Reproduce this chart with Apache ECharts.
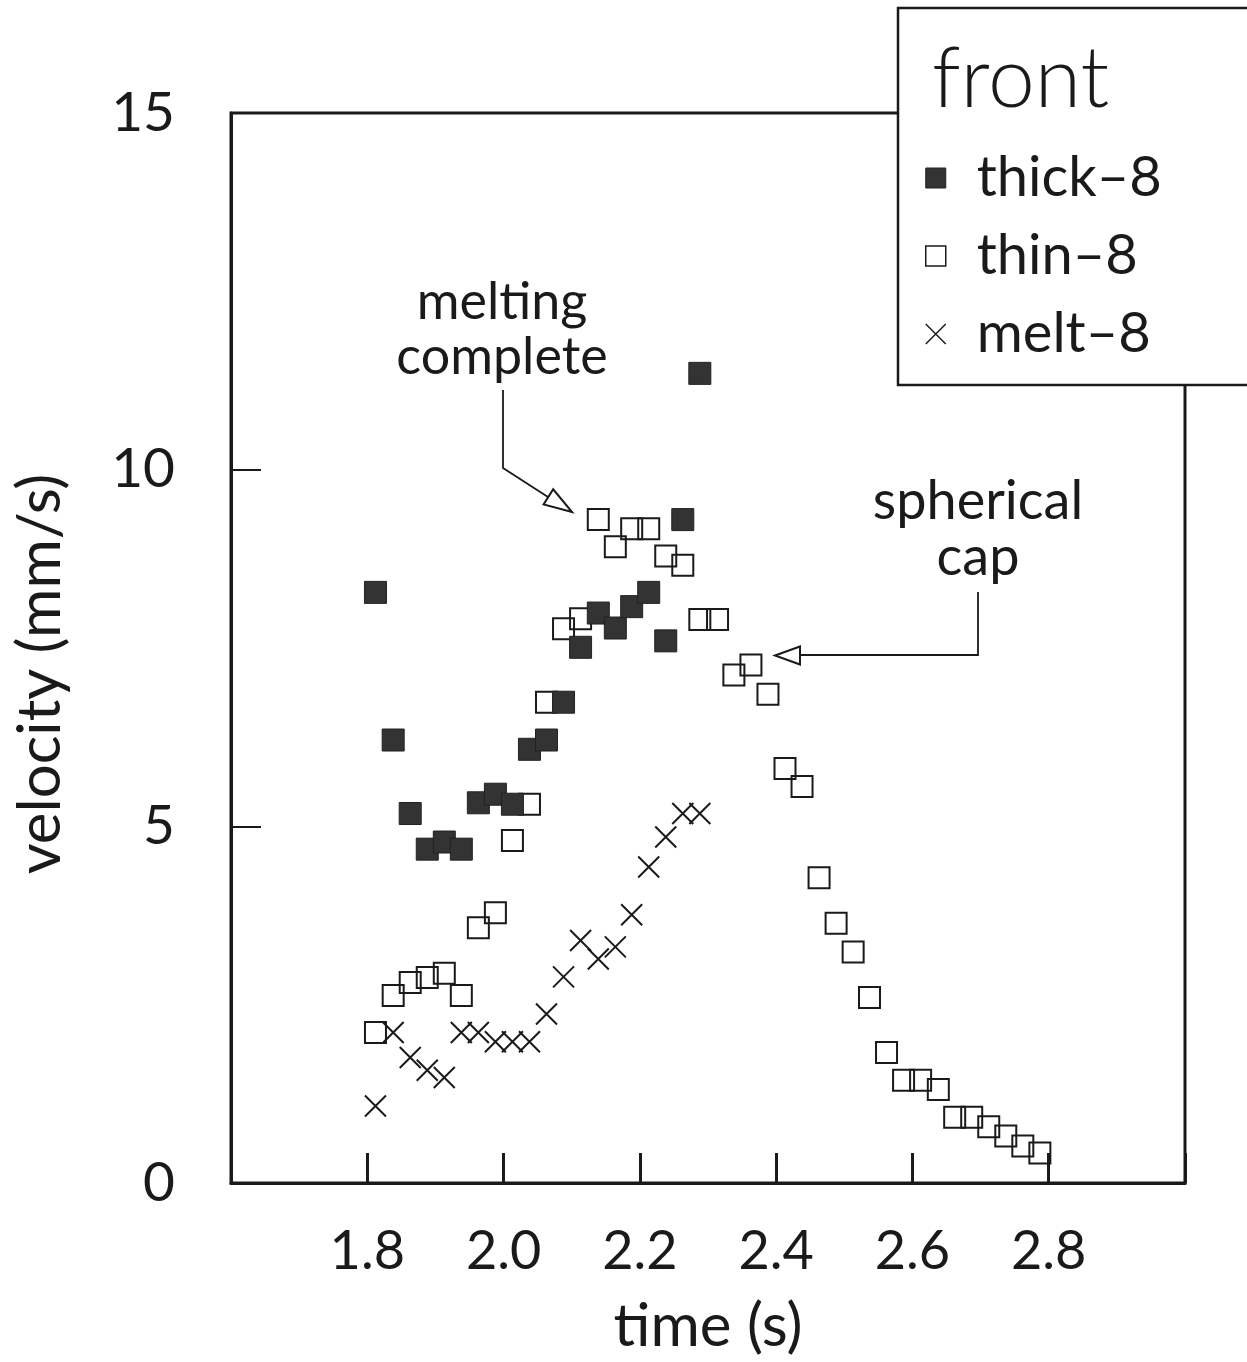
<!DOCTYPE html>
<html>
<head>
<meta charset="utf-8">
<script src="https://cdn.jsdelivr.net/npm/echarts@6/dist/echarts.min.js"></script>
<style>
html, body { margin: 0; padding: 0; background: #fff; }
#chart { width: 1247px; height: 1362px; }
</style>
</head>
<body>
<div id="chart"></div>
<script>
// frame times (s), shared by all three series
const time = [1.812, 1.838, 1.863, 1.888, 1.913, 1.938, 1.963, 1.988, 2.013, 2.038,
  2.063, 2.088, 2.113, 2.139, 2.164, 2.188, 2.213, 2.238, 2.263, 2.288,
  2.314, 2.338, 2.363, 2.388, 2.413, 2.438, 2.463, 2.488, 2.513, 2.537,
  2.562, 2.587, 2.612, 2.638, 2.662, 2.687, 2.712, 2.737, 2.762, 2.787]

// front velocity (mm/s)
const thick8 = [8.28, 6.21, 5.18, 4.68, 4.78, 4.68, 5.33, 5.45, 5.31, 6.08,
  6.21, 6.74, 7.51, 7.99, 7.78, 8.08, 8.28, 7.60, 9.30, 11.35]
const thin8 = [2.11, 2.63, 2.81, 2.88, 2.94, 2.63, 3.58, 3.79, 4.80, 5.31,
  6.74, 7.77, 7.91, 9.30, 8.92, 9.17, 9.17, 8.79, 8.66, 7.90,
  7.90, 7.12, 7.26, 6.85, 5.81, 5.56, 4.28, 3.64, 3.24, 2.60,
  1.83, 1.44, 1.44, 1.31, 0.92, 0.92, 0.79, 0.66, 0.52, 0.42]
const melt8 = [1.08, 2.11, 1.76, 1.58, 1.48, 2.11, 2.11, 1.98, 1.98, 1.98,
  2.37, 2.89, 3.40, 3.14, 3.31, 3.76, 4.43, 4.85, 5.18, 5.18]

const xTickLabels = ['1.8', '2.0', '2.2', '2.4', '2.6', '2.8']
const yTickLabels = ['0', '5', '10', '15']
const seriesNames = ['thick–8', 'thin–8', 'melt–8']

const FONT = 'Lato'
const INK = '#1a1a1a'
const CROSS = 'path://M0,0L10,10M10,0L0,10'

const pairs = (xs, ys) => ys.map((y, i) => [xs[i], y])

var dom = document.getElementById('chart')
var myChart = echarts.init(dom, null, { renderer: 'canvas' })

var txt = { fontFamily: FONT, fontWeight: 400, color: INK }

var option = {
  animation: false,
  backgroundColor: '#fff',
  grid: {
    left: 231, right: 62, top: 113, bottom: 177,
    show: true, borderColor: INK, borderWidth: 3
  },
  xAxis: {
    type: 'value', min: 1.6, max: 3.0, interval: 0.2,
    axisLine: { lineStyle: { color: INK, width: 3 } },
    axisTick: { inside: true, length: 30, lineStyle: { color: INK, width: 3 } },
    splitLine: { show: false },
    axisLabel: Object.assign({}, txt, {
      fontSize: 54, margin: 42,
      formatter: v => xTickLabels.includes(v.toFixed(1)) ? v.toFixed(1) : ''
    }),
    name: 'time (s)', nameLocation: 'middle', nameGap: 114,
    nameTextStyle: Object.assign({}, txt, { fontSize: 60 })
  },
  yAxis: {
    type: 'value', min: 0, max: 15, interval: 5,
    axisLine: { lineStyle: { color: INK, width: 3 } },
    axisTick: { inside: true, length: 30, lineStyle: { color: INK, width: 2 } },
    splitLine: { show: false },
    axisLabel: Object.assign({}, txt, {
      fontSize: 55, margin: 56,
      formatter: v => yTickLabels.includes(String(v)) ? String(v) : ''
    }),
    name: 'velocity (mm/s)', nameLocation: 'middle', nameGap: 160,
    nameTextStyle: Object.assign({}, txt, { fontSize: 60, padding: [0, 52, 0, 0] })
  },
  legend: {
    orient: 'vertical', left: 925, top: 150, padding: 0,
    itemWidth: 20, itemHeight: 20, itemGap: 22, z: 20,
    textStyle: Object.assign({}, txt, { fontSize: 56, padding: [0, 0, 0, 26] }),
    data: [
      { name: seriesNames[0], icon: 'rect', itemStyle: { color: '#333', borderColor: '#222', borderWidth: 1 } },
      { name: seriesNames[1], icon: 'rect', itemStyle: { color: 'rgba(0,0,0,0)', borderColor: INK, borderWidth: 1.5 } },
      { name: seriesNames[2], icon: CROSS, itemStyle: { color: 'rgba(0,0,0,0)', borderColor: INK, borderWidth: 1.5 } }
    ]
  },
  graphic: [
    { type: 'rect', z: 10, shape: { x: 898, y: 8, width: 362, height: 377 },
      style: { fill: '#fff', stroke: INK, lineWidth: 2.5 } },
    { type: 'text', z: 20, style: { x: 932, y: 80, text: 'front', fill: INK,
      font: '300 84px Lato', textVerticalAlign: 'middle' } },
    // melting complete
    { type: 'text', z: 5, style: { x: 502, y: 330, text: 'melting\ncomplete', fill: INK,
      font: '400 52px Lato', lineHeight: 55, textAlign: 'center', textVerticalAlign: 'middle' } },
    { type: 'polyline', z: 5, shape: { points: [[503, 390], [503, 468], [548, 497]] },
      style: { stroke: INK, lineWidth: 1.8, fill: null } },
    { type: 'polygon', z: 5, shape: { points: [[572, 512], [543.6, 504.5], [553.2, 489.3]] },
      style: { stroke: INK, lineWidth: 2, fill: '#fff' } },
    // spherical cap
    { type: 'text', z: 5, style: { x: 978, y: 530, text: 'spherical\ncap', fill: INK,
      font: '400 54px Lato', lineHeight: 56, textAlign: 'center', textVerticalAlign: 'middle' } },
    { type: 'polyline', z: 5, shape: { points: [[978, 592], [978, 655], [800, 655]] },
      style: { stroke: INK, lineWidth: 1.8, fill: null } },
    { type: 'polygon', z: 5, shape: { points: [[775, 655.5], [800, 646.5], [800, 664.5]] },
      style: { stroke: INK, lineWidth: 2, fill: '#fff' } }
  ],
  series: [
    {
      name: seriesNames[1], type: 'scatter', z: 2,
      symbol: 'rect', symbolSize: 21,
      itemStyle: { color: 'rgba(0,0,0,0)', borderColor: INK, borderWidth: 2, opacity: 1 },
      data: pairs(time, thin8)
    },
    {
      name: seriesNames[0], type: 'scatter', z: 3,
      symbol: 'rect', symbolSize: 22,
      itemStyle: { color: '#333', borderColor: '#222', borderWidth: 1, opacity: 1 },
      data: pairs(time, thick8)
    },
    {
      name: seriesNames[2], type: 'scatter', z: 4,
      symbol: CROSS, symbolSize: 21,
      itemStyle: { color: 'rgba(0,0,0,0)', borderColor: INK, borderWidth: 2, opacity: 1 },
      data: pairs(time, melt8)
    }
  ]
}

myChart.setOption(option)
window.addEventListener('resize', myChart.resize)
</script>
</body>
</html>
